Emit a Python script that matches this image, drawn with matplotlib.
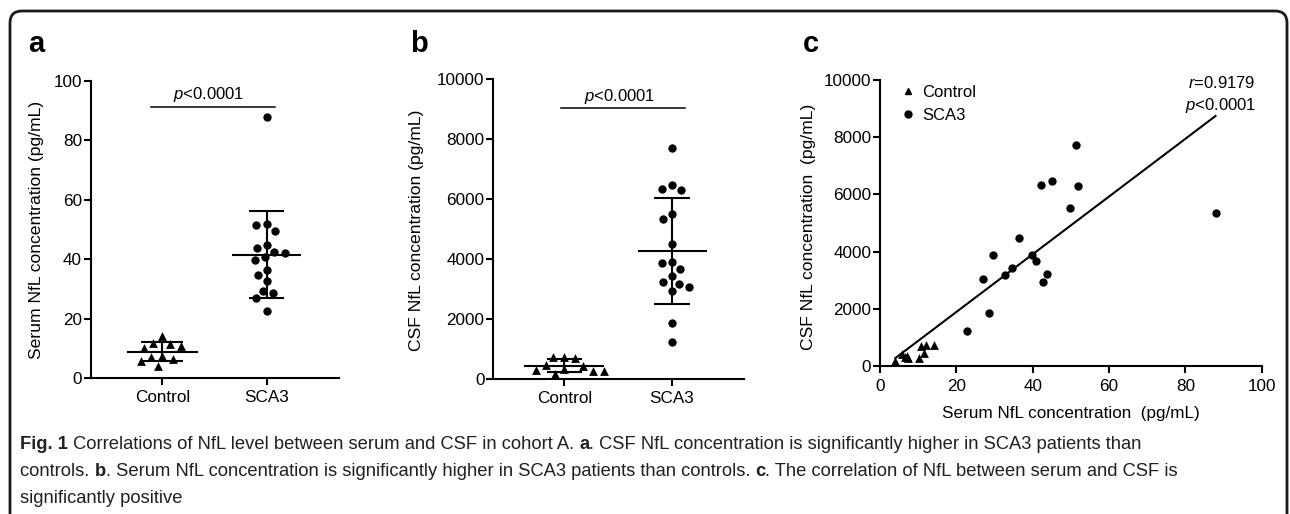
import numpy as np
import matplotlib
matplotlib.use('Agg')
import matplotlib.pyplot as plt
from matplotlib import font_manager
from matplotlib.patches import FancyBboxPatch
from matplotlib.transforms import IdentityTransform
from matplotlib.lines import Line2D

plt.rcParams['font.family'] = ['Liberation Sans', 'DejaVu Sans']
plt.rcParams['mathtext.fontset'] = 'custom'
plt.rcParams['mathtext.rm'] = 'Liberation Sans'
plt.rcParams['mathtext.it'] = 'Liberation Sans:italic'
plt.rcParams['mathtext.bf'] = 'Liberation Sans:bold'

# ---------------- data ----------------
groups = ['Control', 'SCA3']
serum_control = [4.0, 5.8, 6.6, 7.0, 7.4, 10.3, 10.7, 11.6, 12.0, 14.2]
csf_control = [160, 430, 300, 350, 270, 280, 700, 470, 730, 730]
serum_sca3 = [51.4, 42.2, 45.0, 51.8, 49.7, 87.9, 36.4, 29.5, 39.9, 40.8,
              34.6, 32.8, 43.8, 27.0, 42.6, 28.6, 22.8]
csf_sca3 = [7716, 6317, 6457, 6305, 5513, 5338, 4487, 3881, 3893, 3671,
            3427, 3170, 3228, 3054, 2925, 1853, 1224]
serum_yticks = [0, 20, 40, 60, 80, 100]
csf_yticks = [0, 2000, 4000, 6000, 8000, 10000]
corr_xticks = [0, 20, 40, 60, 80, 100]
p_text = r'$\it{p}$<0.0001'
r_text = r'$\it{r}$=0.9179'

caption_lines = [
    [("Fig. 1", True), (" Correlations of NfL level between serum and CSF in cohort A. ", False),
     ("a", True), (". CSF NfL concentration is significantly higher in SCA3 patients than", False)],
    [("controls. ", False), ("b", True),
     (". Serum NfL concentration is significantly higher in SCA3 patients than controls. ", False),
     ("c", True), (". The correlation of NfL between serum and CSF is", False)],
    [("significantly positive", False)],
]

W, H = 1290, 514
fig = plt.figure(figsize=(W / 100, H / 100), dpi=100)
fig.patch.set_facecolor('white')

FS = 12.3
LW = 1.5


def ax_at(x0, x1, ytop, ybot):
    return fig.add_axes([x0 / W, 1 - ybot / H, (x1 - x0) / W, (ybot - ytop) / H])


def style(ax):
    for s in ['top', 'right']:
        ax.spines[s].set_visible(False)
    for s in ['left', 'bottom']:
        ax.spines[s].set_linewidth(LW)
    ax.tick_params(axis='both', direction='out', length=4.8, width=LW, labelsize=FS, color='k')
    ax.tick_params(axis='y', pad=1.5)
    ax.tick_params(axis='x', pad=3.5)


def swarm_x(ax, values, center, diam_px):
    vals = np.asarray(values, dtype=float)
    pts = ax.transData.transform(np.column_stack([np.full(len(vals), center), vals]))
    ys = pts[:, 1]
    x0 = ax.transData.transform((center, 0))[0]
    pxu = ax.transData.transform((center + 1, 0))[0] - x0
    order = np.argsort(-vals, kind='stable')
    placed = []
    xs = np.zeros(len(vals))
    for i in order:
        y = ys[i]
        ivs = []
        for px, py in placed:
            dy = abs(py - y)
            if dy < diam_px:
                h = np.sqrt(diam_px ** 2 - dy ** 2)
                ivs.append((px - h, px + h))
        cands = [0.0] + [a for a, b in ivs] + [b for a, b in ivs]
        cands = sorted(cands, key=lambda c: (round(abs(c), 6), c))
        chosen = 0.0
        for c in cands:
            if all(not (a + 1e-6 < c < b - 1e-6) for a, b in ivs):
                chosen = c
                break
        placed.append((chosen, y))
        xs[i] = center + chosen / pxu
    return xs


def mean_sd(ax, x, vals, half=0.33, cap=0.17):
    m = np.mean(vals)
    s = np.std(vals, ddof=1)
    ax.hlines(m, x - half, x + half, color='k', lw=LW, zorder=4)
    ax.vlines(x, m - s, m + s, color='k', lw=LW, zorder=4)
    ax.hlines([m - s, m + s], x - cap, x + cap, color='k', lw=LW, zorder=4)


# ---------------- panel a ----------------
ax_a = ax_at(90.7, 339, 81, 378.3)
style(ax_a)
ax_a.set_xlim(-0.686, 1.692)
ax_a.set_ylim(0, 100)
ax_a.set_yticks(serum_yticks)
ax_a.set_xticks([0, 1])
ax_a.set_xticklabels(groups)
xa_c = swarm_x(ax_a, serum_control, 0, 11)
xa_s = swarm_x(ax_a, serum_sca3, 1, 10.5)
ax_a.scatter(xa_c, serum_control, marker='^', s=40, color='k', lw=0, zorder=3, clip_on=False)
ax_a.scatter(xa_s, serum_sca3, marker='o', s=36, color='k', lw=0, zorder=3, clip_on=False)
mean_sd(ax_a, 0, serum_control, 0.34, 0.2)
mean_sd(ax_a, 1, serum_sca3, 0.33, 0.17)
ax_a.plot([-0.11, 1.08], [91.4, 91.4], color='k', lw=1.1)
ax_a.text(0.445, 94.0, p_text, ha='center', va='baseline', fontsize=12)
ax_a.set_ylabel('Serum NfL concentration (pg/mL)', fontsize=12.6)
ax_a.yaxis.set_label_coords((44 - 90.7) / (339 - 90.7), 0.5)

# ---------------- panel b ----------------
ax_b = ax_at(493.3, 744, 79, 379)
style(ax_b)
ax_b.set_xlim(-0.659, 1.668)
ax_b.set_ylim(0, 10000)
ax_b.set_yticks(csf_yticks)
ax_b.set_xticks([0, 1])
ax_b.set_xticklabels(groups)
xb_c = swarm_x(ax_b, csf_control, 0, 11)
xb_s = swarm_x(ax_b, csf_sca3, 1, 10.5)
ax_b.scatter(xb_c, csf_control, marker='^', s=40, color='k', lw=0, zorder=3, clip_on=False)
ax_b.scatter(xb_s, csf_sca3, marker='o', s=36, color='k', lw=0, zorder=3, clip_on=False)
mean_sd(ax_b, 0, csf_control, 0.37, 0.16)
mean_sd(ax_b, 1, csf_sca3, 0.32, 0.17)
ax_b.plot([-0.03, 1.12], [9043, 9043], color='k', lw=1.1)
ax_b.text(0.51, 9270, p_text, ha='center', va='baseline', fontsize=12)
ax_b.set_ylabel('CSF NfL concentration (pg/mL)', fontsize=12.6)
ax_b.yaxis.set_label_coords((424 - 493.3) / (744 - 493.3), 0.497)

# ---------------- panel c ----------------
ax_c = ax_at(880, 1261.7, 80, 366)
style(ax_c)
ax_c.tick_params(axis='x', pad=4.5)
ax_c.set_xlim(0, 100)
ax_c.set_ylim(0, 10000)
ax_c.set_xticks(corr_xticks)
ax_c.set_yticks(csf_yticks)
ax_c.scatter(serum_control, csf_control, marker='^', s=40, color='k', lw=0, zorder=3, clip_on=False)
ax_c.scatter(serum_sca3, csf_sca3, marker='o', s=36, color='k', lw=0, zorder=3, clip_on=False)
all_x = np.array(serum_control + serum_sca3, dtype=float)
all_y = np.array(csf_control + csf_sca3, dtype=float)
slope, intercept = np.polyfit(all_x, all_y, 1)
xl = np.array([all_x.min(), all_x.max()])
ax_c.plot(xl, slope * xl + intercept, color='k', lw=1.5, zorder=2)
ax_c.text(98.4, 9720, r_text, ha='right', va='baseline', fontsize=12)
ax_c.text(98.6, 8951, p_text, ha='right', va='baseline', fontsize=12)
handles = [Line2D([], [], marker='^', ls='none', color='k', markersize=5),
           Line2D([], [], marker='o', ls='none', color='k', markersize=5)]
ax_c.legend(handles, groups, loc='upper left', bbox_to_anchor=(0.055, 0.982), frameon=False,
            fontsize=12, handlelength=0.8, handletextpad=0.45, borderaxespad=0, borderpad=0,
            labelspacing=0.45)
ax_c.set_xlabel('Serum NfL concentration  (pg/mL)', fontsize=12.3)
ax_c.xaxis.set_label_coords(0.5, (366 - 406) / 286)
ax_c.set_ylabel('CSF NfL concentration  (pg/mL)', fontsize=12.6)
ax_c.yaxis.set_label_coords((815.5 - 880) / (1261.7 - 880), 0.488)

# ---------------- panel letters ----------------
for lbl, x in [('a', 28), ('b', 410), ('c', 803)]:
    fig.text(x / W, 1 - 51.7 / H, lbl, fontsize=21, fontweight='bold', ha='left', va='baseline')

# ---------------- frame ----------------
frame = FancyBboxPatch((10, -40), 1277, 543, boxstyle='round,pad=0,rounding_size=12',
                       transform=IdentityTransform(), fill=False, lw=2.0, ec='#1a1a1a')
fig.add_artist(frame)

# ---------------- caption ----------------
installed = {f.name for f in font_manager.fontManager.ttflist}
cap_family = ['Liberation Sans Narrow', 'DejaVu Sans'] if 'Liberation Sans Narrow' in installed \
    else ['Liberation Sans', 'DejaVu Sans']
renderer = fig.canvas.get_renderer()
cap_color = '#231f20'


def line_width(pieces, size):
    tot = 0
    for s, b in pieces:
        t = fig.text(0, 0, s, fontsize=size, family=cap_family,
                     fontweight='bold' if b else 'normal')
        tot += t.get_window_extent(renderer).width
        t.remove()
    return tot


ref = 12.0
wid = line_width(caption_lines[1], ref)
cap_size = ref * (1157 / wid)

baselines = [449, 476, 503]
for pieces, yb in zip(caption_lines, baselines):
    x = 20.0
    for s, b in pieces:
        t = fig.text(x / W, 1 - yb / H, s, fontsize=cap_size, family=cap_family,
                     fontweight='bold' if b else 'normal',
                     ha='left', va='baseline', color=cap_color)
        x += t.get_window_extent(renderer).width

fig.savefig('out.png', dpi=100, facecolor='white')
